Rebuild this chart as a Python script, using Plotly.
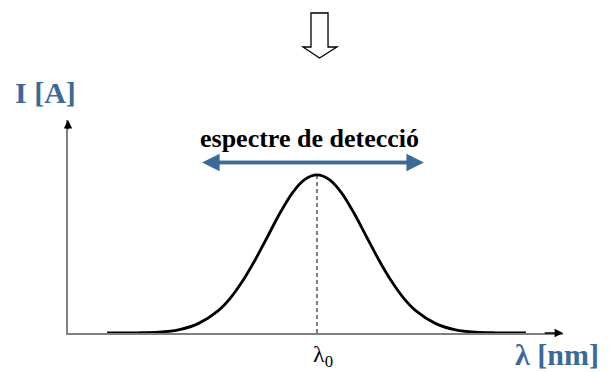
import plotly.graph_objects as go

# ---- data (arbitrary units) ----
wavelength = [7.9, 14.3, 18.3, 22.3, 26.3, 30.3, 32.8, 35.3, 37.8, 40.3, 42.8, 45.3, 47.8, 50.3,
              52.8, 55.3, 57.8, 60.3, 62.8, 65.3, 67.8, 70.3, 74.3, 78.3, 82.3, 86.3, 92.5]
intensity = [0.0, 0.001, 0.004, 0.015, 0.044, 0.104, 0.164, 0.245, 0.343, 0.452, 0.562, 0.657, 0.72, 0.742,
             0.72, 0.657, 0.562, 0.452, 0.343, 0.245, 0.164, 0.104, 0.044, 0.015, 0.004, 0.001, 0.0]
lambda0 = 50.3
peak = 0.742
band_lo, band_hi, band_y = 27.1, 71.9, 0.80

# reference pixel geometry (screen); page body has an 8px margin
OFF = 8
W, H = 611 - OFF, 372 - OFF
L, R, T, B = 68 - OFF, 48, 120 - OFF, 39
PW, PH = W - L - R, H - T - B

def px(x):
    return (x - 68) / PW

def py(y):
    return (333 - y) / PH

BLUE = "#3b6a98"
SERIF = "Liberation Serif"

fig = go.Figure()
fig.add_trace(go.Scatter(x=wavelength, y=intensity, mode="lines",
                         line=dict(color="black", width=2.8, shape="spline", smoothing=0.8),
                         hoverinfo="skip"))
fig.add_trace(go.Scatter(x=[lambda0, lambda0], y=[0, peak], mode="lines",
                         line=dict(color="black", width=1, dash="4px,3px"), hoverinfo="skip"))

def label(x, y, text, size, color):
    return dict(x=px(x), y=py(y), xref="paper", yref="paper", text=text, showarrow=False,
                xanchor="center", yanchor="middle",
                font=dict(family=SERIF, size=size, color=color))

annotations = [
    # axis arrowheads
    dict(x=100, y=0, ax=96, ay=0, xref="x", yref="y", axref="x", ayref="y", text="",
         showarrow=True, arrowhead=2, arrowsize=1.2, arrowwidth=1.4, arrowcolor="black"),
    dict(x=0, y=1, ax=0, ay=0.95, xref="x", yref="y", axref="x", ayref="y", text="",
         showarrow=True, arrowhead=2, arrowsize=1.2, arrowwidth=1.4, arrowcolor="black"),
    # double blue arrow
    dict(x=band_hi, y=band_y, ax=band_lo + 3, ay=band_y, xref="x", yref="y", axref="x", ayref="y",
         text="", showarrow=True, arrowhead=2, arrowsize=1.0, arrowwidth=3.5, arrowcolor=BLUE),
    dict(x=band_lo, y=band_y, ax=band_hi - 3, ay=band_y, xref="x", yref="y", axref="x", ayref="y",
         text="", showarrow=True, arrowhead=2, arrowsize=1.0, arrowwidth=3.5, arrowcolor=BLUE),
    label(309, 138, "<b>espectre de detecció</b>", 26, "black"),
    label(45, 93, "<b>I [A]</b>", 30, BLUE),
    label(557, 354, "<b>λ [nm]</b>", 30, BLUE),
    label(323, 356, "λ<sub>0</sub>", 24, "black"),
]

# hollow down arrow at the top
pts = [(311, 13), (328, 13), (328, 47), (337, 47), (319.5, 58), (303, 47), (311, 47)]
path = "M " + " L ".join(f"{px(x):.4f},{py(y):.4f}" for x, y in pts) + " Z"
shapes = [dict(type="path", xref="paper", yref="paper", path=path,
               line=dict(color="black", width=1.3), fillcolor="white")]

fig.update_layout(
    width=W, height=H, margin=dict(l=L, r=R, t=T, b=B),
    paper_bgcolor="white", plot_bgcolor="white", showlegend=False,
    xaxis=dict(range=[0, 100], showgrid=False, zeroline=False, showticklabels=False, ticks="",
               showline=True, linecolor="#808080", linewidth=1.5),
    yaxis=dict(range=[0, 1], showgrid=False, zeroline=False, showticklabels=False, ticks="",
               showline=True, linecolor="#808080", linewidth=1.5),
    annotations=annotations, shapes=shapes,
)
fig.write_html("out.html")
